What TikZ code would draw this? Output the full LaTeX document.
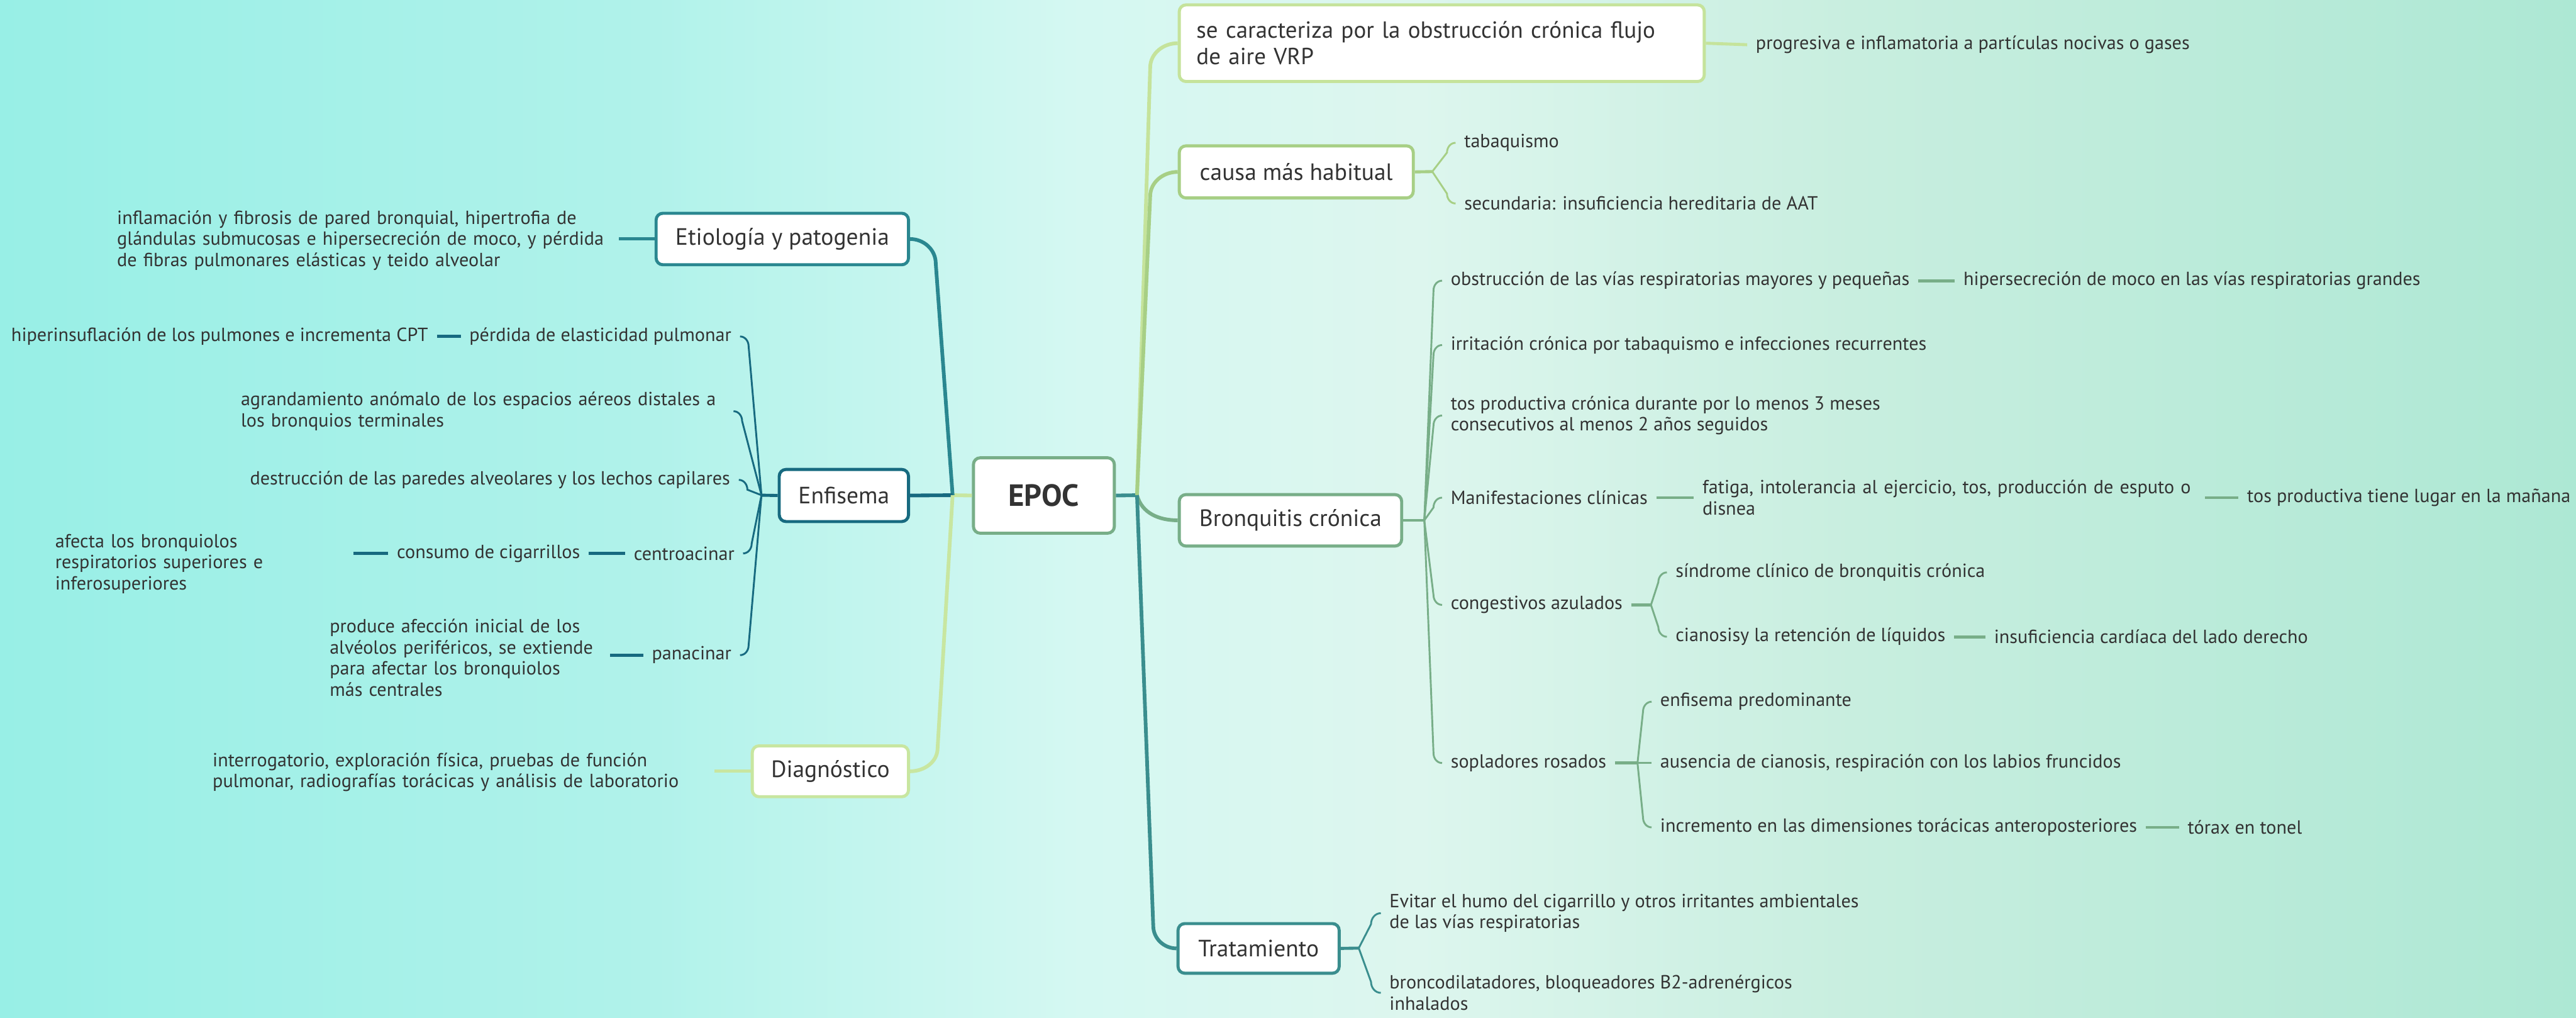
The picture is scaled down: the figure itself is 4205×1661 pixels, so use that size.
\documentclass[tikz,border=0pt]{standalone}
\usepackage{fontspec}
\setmainfont{PT Sans}
\usetikzlibrary{calc}
\definecolor{ink}{HTML}{333333}
\definecolor{cSec}{HTML}{C5E39B}
\definecolor{cCausa}{HTML}{A7CF85}
\definecolor{cBron}{HTML}{78AE88}
\definecolor{cTrat}{HTML}{3A8E8E}
\definecolor{cEtio}{HTML}{2A8790}
\definecolor{cEnf}{HTML}{176A80}
\definecolor{cDiag}{HTML}{C8E6A0}
\definecolor{bgA}{HTML}{98EFE6}
\definecolor{bgB}{HTML}{B0F2EA}
\definecolor{bgC}{HTML}{D5F8F2}
\definecolor{bgD}{HTML}{DDF6EE}
\definecolor{bgE}{HTML}{C8EEDF}
\definecolor{bgF}{HTML}{ADE8D4}
\pgfdeclarehorizontalshading{bgshade}{100bp}{color(0bp)=(bgA); color(25bp)=(bgA); color(37.5bp)=(bgB); color(46bp)=(bgC); color(52.5bp)=(bgD); color(61bp)=(bgE); color(75bp)=(bgF); color(100bp)=(bgF)}
\begin{document}
\begin{tikzpicture}[x=1pt,y=-1pt,
  tx/.style={inner xsep=14pt, inner ysep=3pt, text=ink, font=\fontsize{31}{34.5}\selectfont, align=left},
  topic/.style={draw=#1, fill=white, line width=5pt, rounded corners=11pt, text=ink, font=\fontsize{38.5}{43}\selectfont, inner sep=0pt, align=center},
  mainln/.style={draw=#1, line width=6pt},
  boxln/.style={draw=#1, line width=5pt},
  subln/.style={draw=#1, line width=3pt},
  dashln/.style={draw=#1, line width=5pt}]
\shade[shading=bgshade] (0,0) rectangle (4205,1661);
\useasboundingbox (0,0) rectangle (4205,1661);

% central
\node[topic=cBron, minimum width=230pt, minimum height=123pt, font=\fontsize{50}{60}\selectfont\bfseries] (epoc) at (1704,808.5) {EPOC};
\coordinate (jR) at (1856,808);
\coordinate (jL) at (1555,808);

% right branches
\node[topic=cSec, minimum width=857pt, minimum height=125pt, text width=801pt, align=left, font=\fontsize{38}{43}\selectfont] (sec) at (2353.5,70.5) {\mbox{se caracteriza por la obstrucción crónica flujo}\\ de aire VRP};
\node[tx, anchor=west] (prog) at (2852,73) {progresiva e inflamatoria a partículas nocivas o gases};

\node[topic=cCausa, minimum width=382pt, minimum height=85pt] (causa) at (2116,280.5) {causa más habitual};
\coordinate (jC) at (2338,280);
\node[tx, anchor=west] (tab) at (2376,233) {tabaquismo};
\node[tx, anchor=west] (sec2) at (2376,332) {secundaria: insuficiencia hereditaria de AAT};

\node[topic=cBron, minimum width=363pt, minimum height=84pt] (bron) at (2106.5,849) {Bronquitis crónica};
\coordinate (jB) at (2325,849);
\node[tx, anchor=west] (b1) at (2354,458) {obstrucción de las vías respiratorias mayores y pequeñas};
\node[tx, anchor=west] (b1b) at (3191,458) {hipersecreción de moco en las vías respiratorias grandes};
\node[tx, anchor=west] (b2) at (2354,563) {irritación crónica por tabaquismo e infecciones recurrentes};
\node[tx, anchor=west] (b3) at (2354,678) {tos productiva crónica durante por lo menos 3 meses\\ consecutivos al menos 2 años seguidos};
\node[tx, anchor=west] (b4) at (2354,812) {Manifestaciones clínicas};
\node[tx, anchor=west, text width=806pt] (b4b) at (2765,812) {\mbox{fatiga, intolerancia al ejercicio, tos, producción de esputo o}\\ disnea};
\node[tx, anchor=west] (b4c) at (3654,812) {tos productiva tiene lugar en la mañana};
\node[tx, anchor=west] (b5) at (2354,987) {congestivos azulados};
\coordinate (jCg) at (2695,987);
\node[tx, anchor=west] (c1) at (2721,934) {síndrome clínico de bronquitis crónica};
\node[tx, anchor=west] (c2) at (2721,1039) {cianosisy la retención de líquidos};
\node[tx, anchor=west] (c2b) at (3241,1039) {insuficiencia cardíaca del lado derecho};
\node[tx, anchor=west] (b6) at (2354,1245) {sopladores rosados};
\coordinate (jS) at (2673,1245);
\node[tx, anchor=west] (s1) at (2696,1145) {enfisema predominante};
\node[tx, anchor=west] (s2) at (2696,1245) {ausencia de cianosis, respiración con los labios fruncidos};
\node[tx, anchor=west] (s3) at (2696,1350) {incremento en las dimensiones torácicas anteroposteriores};
\node[tx, anchor=west] (s3b) at (3557,1350) {tórax en tonel};

\node[topic=cTrat, minimum width=263pt, minimum height=81pt] (trat) at (2054.5,1547.5) {Tratamiento};
\coordinate (jT) at (2218,1547);
\node[tx, anchor=west] (t1) at (2254,1490) {Evitar el humo del cigarrillo y otros irritantes ambientales\\ de las vías respiratorias};
\node[tx, anchor=west] (t2) at (2254,1620) {broncodilatadores, bloqueadores B2-adrenérgicos\\ inhalados};

% left branches
\node[topic=cEtio, minimum width=412pt, minimum height=84pt] (etio) at (1277,390) {Etiología y patogenia};
\node[tx, anchor=west, text width=805pt] (e1) at (177,392) {\mbox{inflamación y fibrosis de pared bronquial, hipertrofia de}\\ \mbox{glándulas submucosas e hipersecreción de moco, y pérdida}\\ \mbox{de fibras pulmonares elásticas y teido alveolar}};

\node[topic=cEnf, minimum width=211pt, minimum height=85pt] (enf) at (1377.5,808.5) {Enfisema};
\coordinate (jE) at (1243,808);
\node[tx, anchor=east] (f1) at (1208,549) {pérdida de elasticidad pulmonar};
\node[tx, anchor=east] (f1b) at (713,549) {hiperinsuflación de los pulmones e incrementa CPT};
\node[tx, anchor=west, text width=790pt] (f2) at (379,671) {\mbox{agrandamiento anómalo de los espacios aéreos distales a}\\ los bronquios terminales};
\node[tx, anchor=east] (f3) at (1206,783) {destrucción de las paredes alveolares y los lechos capilares};
\node[tx, anchor=east] (f4) at (1213,903) {centroacinar};
\node[tx, anchor=east] (f4b) at (961,903) {consumo de cigarrillos};
\node[tx, anchor=west, text width=473pt] (f4c) at (76,920) {\mbox{afecta los bronquiolos}\\ \mbox{respiratorios superiores e}\\ inferosuperiores};
\node[tx, anchor=east] (f5) at (1208,1069) {panacinar};
\node[tx, anchor=west, text width=443pt] (f5b) at (524,1073) {\mbox{produce afección inicial de los}\\ \mbox{alvéolos periféricos, se extiende}\\ \mbox{para afectar los bronquiolos}\\ más centrales};

\node[topic=cDiag, minimum width=255pt, minimum height=83pt] (diag) at (1355.5,1258.5) {Diagnóstico};
\node[tx, anchor=west, text width=805pt] (d1) at (333,1260) {\mbox{interrogatorio, exploración física, pruebas de función}\\ \mbox{pulmonar, radiografías torácicas y análisis de laboratorio}};

% main connectors
\draw[mainln=cTrat] (epoc.east) -- (jR);
\draw[mainln=cDiag] (epoc.west) -- (jL);
\draw[mainln=cSec] (jR) -- ($(sec.west)+(-45,40)$) to[out=90,in=180] (sec.west);
\draw[mainln=cCausa] (jR) -- ($(causa.west)+(-45,40)$) to[out=90,in=180] (causa.west);
\draw[mainln=cBron] (jR) to[out=-75,in=180] (bron.west);
\draw[mainln=cTrat] (jR) -- ($(trat.west)+(-38,-37)$) to[out=-90,in=180] (trat.west);
\draw[mainln=cEtio] (jL) -- ($(etio.east)+(42,40)$) to[out=90,in=0] (etio.east);
\draw[mainln=cEnf] (jL) -- (enf.east);
\draw[mainln=cDiag] (jL) -- ($(diag.east)+(45,-38)$) to[out=-90,in=0] (diag.east);

% se caracteriza / causa
\draw[dashln=cSec] (sec.east) -- (prog.west);
\draw[boxln=cCausa] (causa.east) -- (jC);
\draw[subln=cCausa] (jC) -- ($(tab.west)+(-14,16)$) to[out=90,in=180] (tab.west);
\draw[subln=cCausa] (jC) -- ($(sec2.west)+(-14,-16)$) to[out=-90,in=180] (sec2.west);

% bronquitis
\draw[boxln=cBron] (bron.east) -- (jB);
\foreach \n in {b1,b2,b3,b4}
  \draw[subln=cBron] (jB) -- ($(\n.west)+(-14,16)$) to[out=90,in=180] (\n.west);
\foreach \n in {b5,b6}
  \draw[subln=cBron] (jB) -- ($(\n.west)+(-14,-16)$) to[out=-90,in=180] (\n.west);
\draw[dashln=cBron] (b1.east) -- (b1b.west);
\draw[dashln=cBron] (b4.east) -- (b4b.west);
\draw[dashln=cBron] (b4b.east) -- (b4c.west);
\draw[boxln=cBron] (b5.east) -- (jCg);
\draw[subln=cBron] (jCg) -- ($(c1.west)+(-14,16)$) to[out=90,in=180] (c1.west);
\draw[subln=cBron] (jCg) -- ($(c2.west)+(-14,-16)$) to[out=-90,in=180] (c2.west);
\draw[dashln=cBron] (c2.east) -- (c2b.west);
\draw[boxln=cBron] (b6.east) -- (jS);
\draw[subln=cBron] (jS) -- ($(s1.west)+(-14,16)$) to[out=90,in=180] (s1.west);
\draw[subln=cBron] (jS) -- (s2.west);
\draw[subln=cBron] (jS) -- ($(s3.west)+(-14,-16)$) to[out=-90,in=180] (s3.west);
\draw[dashln=cBron] (s3.east) -- (s3b.west);

% tratamiento
\draw[boxln=cTrat] (trat.east) -- (jT);
\draw[subln=cTrat] (jT) -- ($(t1.west)+(-16,18)$) to[out=90,in=180] (t1.west);
\draw[subln=cTrat] (jT) -- ($(t2.west)+(-16,-18)$) to[out=-90,in=180] (t2.west);

% etiologia
\draw[dashln=cEtio] (etio.west -| e1.east) -- (etio.west);

% enfisema
\draw[boxln=cEnf] (enf.west) -- (jE);
\foreach \n in {f1,f2,f3}
  \draw[subln=cEnf] (jE) -- ($(\n.east)+(14,16)$) to[out=90,in=0] (\n.east);
\foreach \n in {f4,f5}
  \draw[subln=cEnf] (jE) -- ($(\n.east)+(14,-16)$) to[out=-90,in=0] (\n.east);
\draw[dashln=cEnf] (f1b.east) -- (f1.west);
\draw[dashln=cEnf] (f4b.east) -- (f4.west);
\draw[dashln=cEnf] (f4b.west) -- (f4b.west -| f4c.east);
\draw[dashln=cEnf] (f5.west) -- (f5.west -| f5b.east);

% diagnostico
\draw[dashln=cDiag] (diag.west -| d1.east) -- (diag.west);
\end{tikzpicture}
\end{document}
